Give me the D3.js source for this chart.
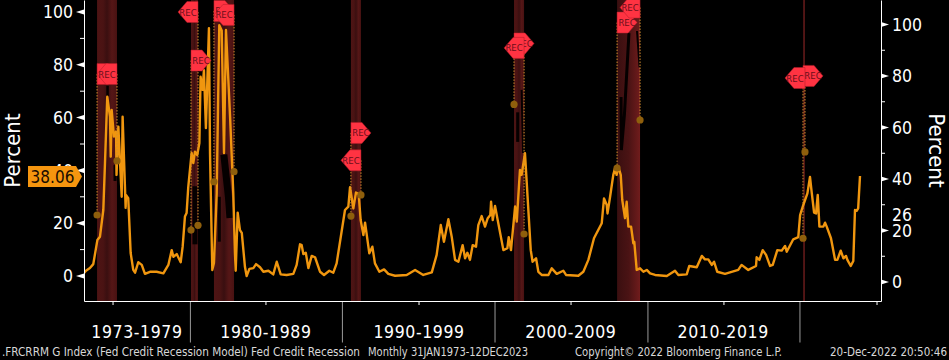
<!DOCTYPE html>
<html><head><meta charset="utf-8">
<script src="https://cdn.jsdelivr.net/npm/d3@7"></script>
<style>
html,body{margin:0;padding:0;background:#000;overflow:hidden}
svg{display:block}
text{font-family:"DejaVu Sans Condensed","DejaVu Sans",sans-serif}
</style></head><body><svg id="c" width="949" height="360"></svg>
<script>
const seriesYears=[1973.00,1973.13,1973.39,1973.61,1973.88,1974.05,1974.27,1974.38,1974.53,1974.71,1974.76,1974.82,1974.97,1975.11,1975.14,1975.26,1975.48,1975.54,1975.74,1975.76,1975.91,1976.07,1976.24,1976.36,1976.57,1976.80,1977.01,1977.34,1977.78,1978.22,1978.55,1978.77,1978.88,1979.10,1979.36,1979.49,1979.64,1979.75,1979.86,1980.08,1980.19,1980.30,1980.45,1980.59,1980.67,1980.80,1980.89,1981.02,1981.22,1981.29,1981.44,1981.55,1981.73,1981.90,1982.06,1982.21,1982.34,1982.61,1982.82,1982.93,1982.98,1983.11,1983.26,1983.38,1983.59,1983.70,1983.88,1984.14,1984.32,1984.58,1984.80,1985.13,1985.45,1985.68,1985.94,1986.33,1986.77,1986.99,1987.21,1987.32,1987.43,1987.59,1987.76,1987.98,1988.20,1988.53,1988.79,1989.14,1989.40,1989.62,1990.17,1990.39,1990.50,1990.72,1990.89,1991.07,1991.20,1991.38,1991.49,1991.77,1991.97,1992.14,1992.43,1992.74,1993.02,1993.46,1994.23,1994.78,1995.32,1995.88,1996.20,1996.47,1996.68,1996.97,1997.19,1997.41,1997.63,1997.91,1998.07,1998.22,1998.39,1998.57,1998.79,1998.94,1999.16,1999.38,1999.56,1999.73,1999.78,1999.89,2000.04,2000.59,2000.85,2000.94,2001.09,2001.36,2001.47,2001.68,2001.79,2002.01,2002.39,2002.51,2002.74,2002.89,2003.11,2003.55,2003.77,2004.10,2004.53,2004.71,2005.52,2005.85,2006.18,2006.55,2007.06,2007.21,2007.39,2007.44,2007.61,2007.82,2007.93,2008.04,2008.15,2008.31,2008.41,2008.59,2008.70,2008.81,2008.99,2009.14,2009.20,2009.36,2009.58,2009.80,2010.02,2010.24,2010.57,2011.34,2011.88,2012.10,2012.65,2012.82,2013.31,2013.64,2013.85,2014.07,2014.30,2014.45,2014.66,2015.17,2016.04,2016.26,2016.70,2017.21,2017.25,2017.43,2017.65,2017.87,2018.13,2018.31,2018.61,2018.90,2019.12,2019.23,2019.66,2019.99,2020.11,2020.32,2020.59,2020.76,2020.88,2021.03,2021.16,2021.27,2021.38,2021.64,2021.75,2021.86,2022.14,2022.41,2022.56,2022.78,2022.96,2023.13,2023.22,2023.44,2023.61,2023.72,2023.83,2023.93,2024.05];
const seriesValues=[1.1,2.0,3.0,4.5,13.6,14.9,25,42.8,67.9,60.3,45.2,62.9,52.8,54.7,38.3,56.6,30,60.3,25.8,30.7,29.5,8.7,2.3,1.25,5.2,4.2,0.8,1.6,1.6,1.0,4.2,9.8,7.3,8.3,5.2,11.1,22.5,23.9,33.8,46.6,42.8,47.1,45.8,50.4,75.5,70.5,78,56,93.9,46.6,2.3,4.9,31.4,95,93,46.6,93.2,60.3,31.4,8.7,2,24,17.4,16.3,3.4,0,2.7,3,4.5,3.3,1.6,2,0.6,5.4,0.6,0.4,0.8,4.2,12,11.7,8.3,8.8,3,7.6,7.1,1.6,0.4,2,1.25,4.8,25,26.3,33.6,25.6,31.6,31,21.2,15.5,20.2,8.6,11.1,4.8,1.6,2.5,0.8,0.1,0.4,2.3,0.4,1.4,8,19.3,13,21.5,14.9,6.1,5.4,11.7,6.7,8.8,6.1,11.7,11.1,19.3,22.7,18.7,21.9,23.1,28.1,21.2,26.5,9.8,10.5,14.7,9.8,26.3,20.6,40.2,38.3,46.5,9.8,5.4,6.7,1.6,0.4,0.4,2.9,0.8,2,0.4,0.1,1.6,6.1,14.3,20,29.4,26.9,23.7,30,38.3,40.8,38.3,41.4,38.3,28.8,21.9,28.1,18.7,18.7,12.4,13,2.3,2.9,1.6,2.3,1,0.4,0,2,0.4,0.6,3.8,3.3,7.6,6.3,6.3,4.2,5.4,1.6,0.8,2.3,4.2,2.3,3.8,7.1,6.1,9.8,8,3.8,4.2,9.8,9.6,11.4,9.2,13.9,14.7,23.1,26.9,31.3,37.5,31.3,24,23.7,30.7,18.7,18.7,20.2,18.7,14.3,6.1,6.1,9.6,6.7,7.6,6.1,3.8,5.7,25,24.7,25.6,37.9];

const recStart=[1973.86,1980.04,1981.55,1990.56,2001.29,2008.07,2020.30];
const recEnd=[1975.17,1980.50,1982.87,1991.22,2001.95,2009.58,2020.43];
const flagStartVal=[76.5,81.6,100.4,54.2,88.1,96,75.8];
const flagEndVal=[76.5,100,98.9,43.8,86.4,101.7,75];
const dotStartVal=[23.1,17.4,35.7,22.7,65,40.9,14.3];
const dotEndVal=[43.6,19.2,39.5,30.7,15.9,59.1,47];

const hiddenSegYears=[[1974.55,1974.55],[1975.04,1975.04],[1980.3,1980.3],[1982.2,1982.5,1982.6],[1981.9,1981.9],[2001.53,2001.53],[2001.79,2001.88],[2008.33,2008.35,2008.55,2008.85],[2009.38,2009.55]];
const hiddenSegVals=[[72,68],[42,36],[34,12],[46,30,22],[30,13],[62,50.8],[70.5,46.6],[67.8,47.7,61,92],[92.8,79]];
const hiddenSegWeights=[2.5,3,5,7,3,3,2,3,2];

const leftMajor=[0,20,40,60,80,100];
const leftMinor=[10,30,50,70,90];
const rightMajor=[0,20,40,60,80,100];
const rightMinor=[10,30,50,70,90];
const xMajorTicks=[1980,1990,2000.04,2010.1,2020.1];
const xMinorTicks=[1974.91,1984.97,1995.04,2005.04,2015.1,2025.17];
const decadeLabels=["1973-1979","1980-1989","1990-1999","2000-2009","2010-2019"];
const decadeCenters=[1976.48,1984.97,1995.04,2005.03,2015.05];
const lastValue=38.06, rightExtra=26;
const footerTexts=[".FRCRRM G Index (Fed Credit Recession Model) Fed Credit Recession","Monthly 31JAN1973-12DEC2023","Copyright\u00a9 2022 Bloomberg Finance L.P.","20-Dec-2022 20:50:46"];

const svg=d3.select("#c");
const x=d3.scaleLinear().domain([1973,2024.05]).range([84,860]);
const yL=d3.scaleLinear().domain([0,100]).range([276,12]);
const yR=d3.scaleLinear().domain([0,100]).range([282,24.5]);
const plotB=301, plotR=881;

const defs=svg.append("defs");
const grad=defs.append("linearGradient").attr("id","band");
[[0,"#4e1414"],[0.3,"#4a1313"],[0.5,"#3a0f10"],[0.75,"#551616"],[1,"#481212"]].forEach(s=>grad.append("stop").attr("offset",s[0]).attr("stop-color",s[1]));
const grad2=defs.append("linearGradient").attr("id","band2");
[[0,"#3a0f10"],[0.5,"#4a1314"],[1,"#701c1c"]].forEach(s=>grad2.append("stop").attr("offset",s[0]).attr("stop-color",s[1]));
defs.append("clipPath").attr("id","plot").append("rect").attr("x",84).attr("y",0).attr("width",797).attr("height",plotB);

const plot=svg.append("g").attr("clip-path","url(#plot)");
plot.selectAll("rect.band").data(recStart).join("rect").attr("class","band")
 .attr("x",(d)=>x(d)).attr("width",(d,i)=>x(recEnd[i])-x(d)).attr("y",0).attr("height",plotB)
 .attr("fill",(d,i)=>i==5?"url(#band2)":"url(#band)");

const lineH=d3.line().x(d=>x(d[0])).y(d=>yL(d[1]));
plot.selectAll("path.hid").data(hiddenSegYears).join("path").attr("class","hid")
 .attr("d",(d,i)=>lineH(d.map((yy,j)=>[yy,hiddenSegVals[i][j]])))
 .attr("fill","none").attr("stroke","#050000").attr("stroke-width",(d,i)=>hiddenSegWeights[i]);

plot.append("path").datum(seriesYears.map((yy,i)=>[yy,seriesValues[i]]))
 .attr("d",d3.line().x(d=>x(d[0])).y(d=>yL(d[1])))
 .attr("fill","none").attr("stroke","#f0960f").attr("stroke-width",2.4).attr("stroke-linejoin","round");

// dotted leader lines, dots
function leaders(years,flagVals,dotVals){
  plot.selectAll(null).data(years).join("line")
   .attr("x1",d=>x(d)).attr("x2",d=>x(d))
   .attr("y1",(d,i)=>yL(flagVals[i])).attr("y2",(d,i)=>yL(dotVals[i]))
   .attr("stroke","#d4912f").attr("stroke-width",1).attr("stroke-dasharray","1.5,1.5");
  plot.selectAll(null).data(years).join("circle")
   .attr("cx",d=>x(d)).attr("cy",(d,i)=>yL(dotVals[i])).attr("r",3.6)
   .attr("fill","#8f5f0c");
}
leaders(recStart,flagStartVal,dotStartVal);
leaders(recEnd,flagEndVal,dotEndVal);

// flags
const fw=20,rw=11,fh=10.5;
function flags(years,vals,dir){
  const g=svg.selectAll(null).data(years).join("g")
   .attr("transform",(d,i)=>`translate(${x(d)},${yL(vals[i])})`);
  g.append("path").attr("d",`M0,${-fh}L${dir*rw},${-fh}L${dir*fw},0L${dir*rw},${fh}L0,${fh}Z`)
   .attr("fill","#ff3342").attr("stroke","#b01c28").attr("stroke-width",0.5);
  g.append("text").attr("x",dir*10).attr("y",3.5).attr("text-anchor","middle")
   .attr("font-size",9.5).attr("fill","#6b0f1a").text("REC");
}
flags(recStart,flagStartVal,1);
flags(recEnd,flagEndVal,-1);

// axes
const fs=17.5;
const axL=svg.append("g").attr("transform","translate(84,0)")
 .call(d3.axisLeft(yL).tickValues(leftMajor).tickSize(0).tickPadding(11).tickFormat(d3.format("d")));
axL.select(".domain").remove();
axL.selectAll("text").attr("fill","#fff").attr("font-size",fs).style("font-family",'"DejaVu Sans Condensed","DejaVu Sans",sans-serif');
const axR=svg.append("g").attr("transform",`translate(${plotR},0)`)
 .call(d3.axisRight(yR).tickValues(rightMajor).tickSize(0).tickPadding(11).tickFormat(d3.format("d")));
axR.select(".domain").remove();
axR.selectAll("text").attr("fill","#fff").attr("font-size",fs).style("font-family",'"DejaVu Sans Condensed","DejaVu Sans",sans-serif');
svg.append("text").attr("x",892).attr("y",yR(rightExtra)+0.5).attr("dy","0.32em").attr("fill","#fff").attr("font-size",fs).text(rightExtra);

svg.selectAll("path.lt").data(leftMajor).join("path").attr("class","lt")
 .attr("d",d=>`M84,${yL(d)-2.5}L76,${yL(d)}L84,${yL(d)+2.5}Z`).attr("fill","#fff");
svg.selectAll("line.lm").data(leftMinor).join("line").attr("class","lm")
 .attr("x1",80).attr("x2",84).attr("y1",d=>yL(d)).attr("y2",d=>yL(d)).attr("stroke","#fff");
svg.selectAll("path.rt").data(rightMajor).join("path").attr("class","rt")
 .attr("d",d=>`M${plotR},${yR(d)-2.5}L${plotR+8},${yR(d)}L${plotR},${yR(d)+2.5}Z`).attr("fill","#fff");
svg.selectAll("line.rm").data(rightMinor).join("line").attr("class","rm")
 .attr("x1",plotR).attr("x2",plotR+4).attr("y1",d=>yR(d)).attr("y2",d=>yR(d)).attr("stroke","#fff");

const spine=[[84,0,84,plotB],[84,plotB,plotR,plotB],[plotR,0,plotR,plotB]];
svg.selectAll("line.sp").data(spine).join("line").attr("class","sp")
 .attr("x1",d=>d[0]+.5).attr("y1",d=>d[1]+.5).attr("x2",d=>d[2]+.5).attr("y2",d=>d[3]+.5)
 .attr("stroke","#fff").attr("stroke-width",1);

svg.selectAll("line.xM").data(xMajorTicks).join("line").attr("class","xM")
 .attr("x1",d=>x(d)).attr("x2",d=>x(d)).attr("y1",plotB+1).attr("y2",342.5).attr("stroke","#9a9a9a");
svg.selectAll("line.xm").data(xMinorTicks).join("line").attr("class","xm")
 .attr("x1",d=>x(d)).attr("x2",d=>x(d)).attr("y1",plotB+1).attr("y2",plotB+4).attr("stroke","#fff");
svg.selectAll("text.dec").data(decadeLabels).join("text").attr("class","dec")
 .attr("x",(d,i)=>x(decadeCenters[i])).attr("y",338).attr("text-anchor","middle")
 .attr("fill","#fff").attr("font-size",17.5).attr("letter-spacing",0.6).text(d=>d);

// last value tag
const ty=yL(lastValue)+1;
svg.append("path").attr("d",`M28,${ty-10.5}L76,${ty-10.5}L82,${ty}L76,${ty+10.5}L28,${ty+10.5}Z`).attr("fill","#f5950f");
svg.append("text").attr("x",52.5).attr("y",ty+6).attr("text-anchor","middle").attr("font-size",17).attr("fill","#1a0d00").text(lastValue.toFixed(2));

// axis titles
svg.append("text").attr("transform","translate(20,150.5) rotate(-90)").attr("text-anchor","middle").attr("fill","#fff").attr("font-size",22).text("Percent");
svg.append("text").attr("transform","translate(929,150.5) rotate(90)").attr("text-anchor","middle").attr("fill","#fff").attr("font-size",22).text("Percent");

// footer
const footX=[2,368,575,830], footW=[358,160,207,117];
svg.selectAll("text.f").data(footerTexts).join("text").attr("class","f")
 .attr("x",(d,i)=>footX[i]).attr("y",356).attr("fill","#d8d8d8").attr("font-size",11.5)
 .attr("textLength",(d,i)=>footW[i]).attr("lengthAdjust","spacingAndGlyphs").text(d=>d);
</script></body></html>
